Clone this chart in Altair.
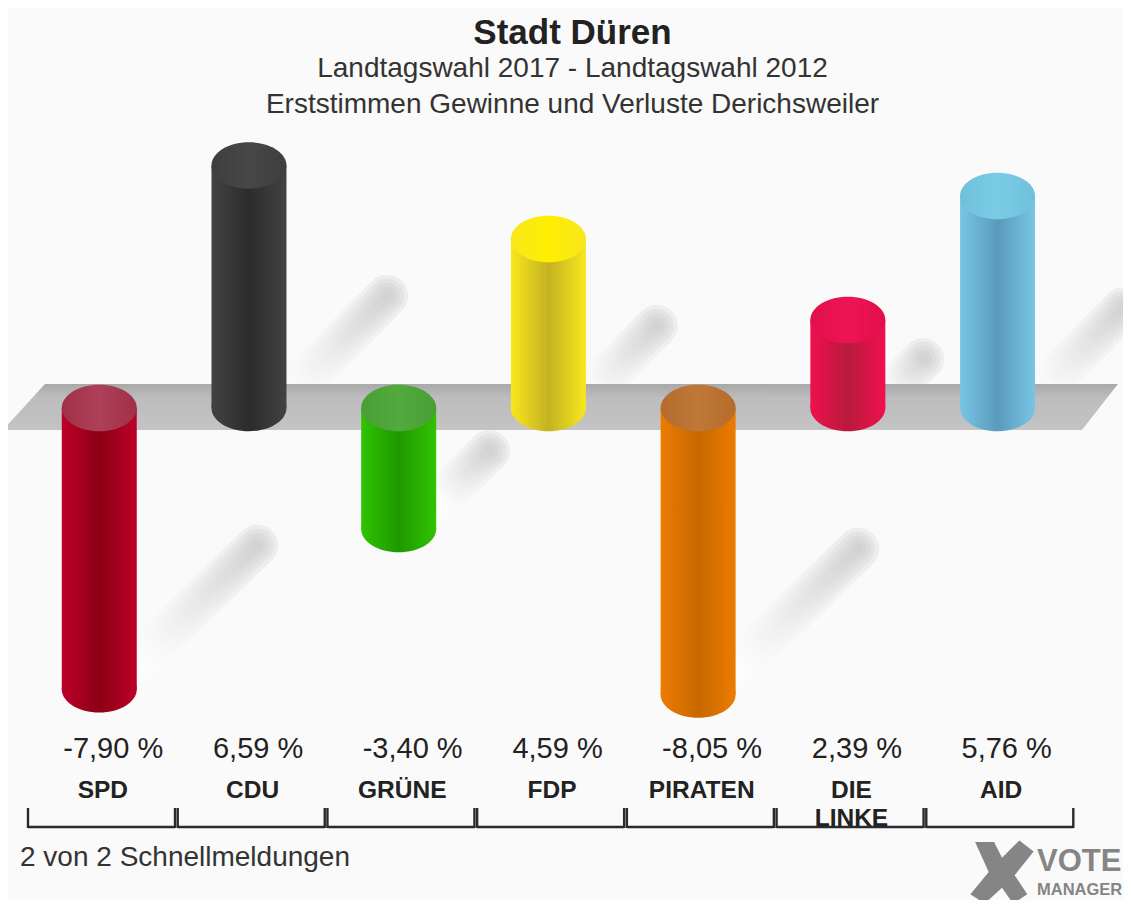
import altair as alt
import pandas as pd

parties = ["SPD", "CDU", "GRÜNE", "FDP", "PIRATEN", "DIE\nLINKE", "AID"]
values = [-7.90, 6.59, -3.40, 4.59, -8.05, 2.39, 5.76]
value_labels = ["-7,90 %", "6,59 %", "-3,40 %", "4,59 %", "-8,05 %", "2,39 %", "5,76 %"]
edge_colors = ["#bd0029", "#424242", "#30c400", "#f8e71c", "#ec7c00", "#f0104e", "#78c6e4"]
core_colors = ["#8c0014", "#2c2c2c", "#1f9800", "#c4b224", "#c66800", "#b81a3c", "#5a9abb"]
cap_edges = ["#a03048", "#3e3e3e", "#48a034", "#f8e71c", "#b56c2c", "#e0104a", "#70c0dc"]
cap_colors = ["#ad4058", "#474747", "#52aa3e", "#ffee00", "#bf7838", "#ee1452", "#7accE6"]
floor_x = [-0.167, 0.113, 7.04, 7.28]
floor_top = [-0.62, 0.65, 0.65, 0.65]
floor_bottom = [-0.62, -0.62, -0.62, 0.65]

FONT = "Liberation Sans"
PLOT_W, PLOT_H = 1115, 892

df = pd.DataFrame({"party": parties, "value": values, "label": value_labels, "i": list(range(7))})
base_data = alt.Chart(df).transform_calculate(
    center="datum.i + 0.5",
    bar_x="datum.i + 0.5 - 0.024",
    low="min(datum.value, 0)",
    high="max(datum.value, 0)",
    start="datum.i",
    end="datum.i + 0.982",
    shadow_x="datum.i + 0.74",
    shadow_x2="datum.i + 0.74 + abs(datum.value) * 0.1",
    shadow_y="datum.value > 0 ? 0.35 : datum.value + 0.8",
    shadow_y2="(datum.value > 0 ? 0.35 : datum.value + 0.8) + abs(datum.value) * 0.41",
)

xs = alt.Scale(domain=[0, 7], range=[20, 1068], nice=False, zero=False, padding=0)
ys = alt.Scale(domain=[-10, 0, 10], range=[756, 400, 32], nice=False, zero=False, padding=0)


def X(f):
    return alt.X(f, type="quantitative", scale=xs, axis=None)


def Y(f):
    return alt.Y(f, type="quantitative", scale=ys, axis=None)


def hgrad(edge, core):
    return alt.Gradient(
        gradient="linear", x1=0, x2=1, y1=0, y2=0,
        stops=[
            alt.GradientStop(offset=0, color=edge),
            alt.GradientStop(offset=0.5, color=core),
            alt.GradientStop(offset=1, color=edge),
        ],
    )


layers = []

# soft cast shadows behind the cylinders
shadow_grad = alt.Gradient(
    gradient="linear", x1=0, x2=1, y1=1, y2=0,
    stops=[
        alt.GradientStop(offset=0, color="#ffffff"),
        alt.GradientStop(offset=1, color="#c4c6c4"),
    ],
)
for w in [42, 34, 26, 18, 10]:
    layers.append(
        base_data.mark_rule(strokeWidth=w, stroke=shadow_grad, strokeCap="round", opacity=0.24).encode(
            x=X("shadow_x:Q"), x2="shadow_x2:Q", y=Y("shadow_y:Q"), y2="shadow_y2:Q"
        )
    )

# grey floor
floor_df = pd.DataFrame({"fx": floor_x, "ftop": floor_top, "fbottom": floor_bottom})
floor_grad = alt.Gradient(
    gradient="linear", x1=0, x2=0, y1=0, y2=1,
    stops=[
        alt.GradientStop(offset=0, color="#a9a9a9"),
        alt.GradientStop(offset=0.3, color="#bdbcbe"),
        alt.GradientStop(offset=1, color="#c4c4c4"),
    ],
)
layers.append(
    alt.Chart(floor_df).mark_area(fill=floor_grad, opacity=1, interpolate="linear", orient="vertical").encode(
        x=X("fx:Q"), y=Y("ftop:Q"), y2="fbottom:Q"
    )
)

ELLIPSE = "M-1,0 A1,0.62 0 1 0 1,0 A1,0.62 0 1 0 -1,0 Z"
for i, party in enumerate(parties):
    one = base_data.transform_filter(alt.datum.i == i)
    body = hgrad(edge_colors[i], core_colors[i])
    cap = hgrad(cap_edges[i], cap_colors[i])
    layers.append(
        one.mark_point(shape=ELLIPSE, size=5625, filled=True, fill=body, opacity=1, strokeWidth=0).encode(
            x=X("bar_x:Q"), y=Y("low:Q")
        )
    )
    layers.append(
        one.mark_bar(size=75, fill=body).encode(x=X("bar_x:Q"), y=Y("low:Q"), y2="high:Q")
    )
    layers.append(
        one.mark_point(shape=ELLIPSE, size=5625, filled=True, fill=cap, opacity=1, strokeWidth=0).encode(
            x=X("bar_x:Q"), y=Y("high:Q")
        )
    )

# value labels
layers.append(
    base_data.mark_text(font=FONT, fontSize=29, align="left", dx=-36, baseline="alphabetic", color="#222222").encode(
        x=X("bar_x:Q"), y=alt.value(750), text="label:N"
    )
)
# party labels
layers.append(
    base_data.mark_text(
        font=FONT, fontSize=24.5, fontWeight="bold", align="center", baseline="alphabetic",
        lineBreak="\n", lineHeight=28, color="#222222",
    ).encode(x=X("center:Q"), y=alt.value(790), text="party:N")
)
# brackets
bracket = "#2a2a2a"
layers.append(
    base_data.mark_rule(stroke=bracket, strokeWidth=2.4).encode(
        x=X("start:Q"), x2="end:Q", y=alt.value(819)
    )
)
for f in ["start:Q", "end:Q"]:
    layers.append(
        base_data.mark_rule(stroke=bracket, strokeWidth=2.4).encode(
            x=X(f), y=alt.value(800), y2=alt.value(820)
        )
    )

note_df = pd.DataFrame({"text": ["2 von 2 Schnellmeldungen"]})
layers.append(
    alt.Chart(note_df).mark_text(font=FONT, fontSize=28, align="left", baseline="alphabetic", color="#333333").encode(
        x=alt.value(12), y=alt.value(858), text="text:N"
    )
)

# VOTE MANAGER logo
logo_path = "M-0.85,-0.95 L-0.25,-0.95 L0,-0.45 L0.55,-1 L1,-0.65 L0.4,0.1 L0.8,0.7 L0.35,1 L0,0.5 L-0.55,1 L-1,0.7 L-0.42,0 Z"
logo_df = pd.DataFrame({"vote": ["VOTE"], "manager": ["MANAGER"]})
logo_grey = "#858585"
layers.append(
    alt.Chart(logo_df).mark_point(shape=logo_path, size=4000, filled=True, fill=logo_grey, opacity=1, strokeWidth=0).encode(
        x=alt.value(994), y=alt.value(864)
    )
)
layers.append(
    alt.Chart(logo_df).mark_text(font=FONT, fontSize=31, fontWeight="bold", align="left", baseline="alphabetic", color=logo_grey).encode(
        x=alt.value(1029), y=alt.value(863), text="vote:N"
    )
)
layers.append(
    alt.Chart(logo_df).mark_text(font=FONT, fontSize=16.5, fontWeight="bold", align="left", baseline="alphabetic", color=logo_grey).encode(
        x=alt.value(1029), y=alt.value(887), text="manager:N"
    )
)

chart = (
    alt.layer(*layers)
    .properties(
        width=PLOT_W,
        height=PLOT_H,
        padding=0,
        background="#fafafa",
        autosize=alt.AutoSizeParams(type="none"),
        title=alt.TitleParams(
            text="Stadt Düren",
            subtitle=["Landtagswahl 2017 - Landtagswahl 2012", "Erststimmen Gewinne und Verluste Derichsweiler"],
            font=FONT,
            fontSize=35,
            fontWeight="bold",
            color="#222222",
            subtitleFont=FONT,
            subtitleFontSize=28,
            subtitleColor="#333333",
            subtitleLineHeight=36,
            subtitlePadding=4,
            anchor="middle",
            frame="group",
            dx=7,
            dy=115,
        ),
    )
    .configure_view(stroke=None)
)

chart.save("out.html", embed_options={"renderer": "svg", "actions": False})
